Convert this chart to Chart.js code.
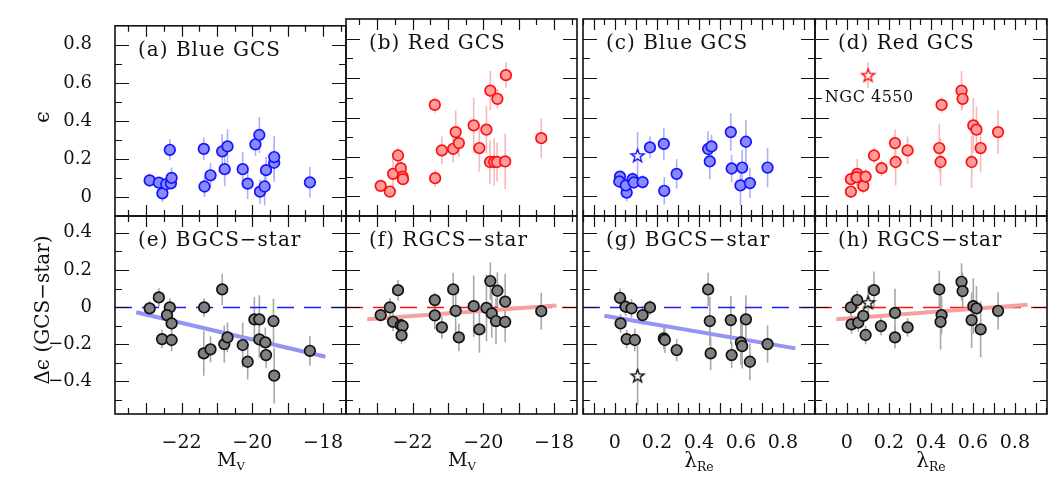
<!DOCTYPE html>
<html><head><meta charset="utf-8">
<script src="https://cdn.jsdelivr.net/npm/chart.js@4.4.1/dist/chart.umd.min.js"></script>
<style>
html,body{margin:0;padding:0;background:#fff;}
#wrap{position:relative;width:1064px;height:481px;overflow:hidden;background:#fff;}
#wrap canvas{position:absolute;left:0;top:0;}
.t{position:absolute;font-family:"DejaVu Serif",serif;color:#111;white-space:nowrap;line-height:1;}
.t sub{font-size:0.62em;vertical-align:-0.35em;}
</style></head><body>
<div id="wrap">
  <div class="t" style="left:42px;top:117px;font-size:21px;transform:translate(-50%,-50%) rotate(-90deg);">ϵ</div>
  <div class="t" style="left:42px;top:310px;font-size:20px;transform:translate(-50%,-50%) rotate(-90deg);">Δϵ (GCS−star)</div>
  <div class="t" style="left:231px;top:461px;font-size:19px;transform:translate(-50%,-50%);">M<sub>V</sub></div>
  <div class="t" style="left:462px;top:461px;font-size:19px;transform:translate(-50%,-50%);">M<sub>V</sub></div>
  <div class="t" style="left:699px;top:462px;font-size:20px;transform:translate(-50%,-50%);">λ<sub>Re</sub></div>
  <div class="t" style="left:931px;top:462px;font-size:20px;transform:translate(-50%,-50%);">λ<sub>Re</sub></div>
</div>
<script>
// ---------------- DATA ----------------
const mvTickLabels   = [-22, -20, -18];
const lamTickLabels  = [0, 0.2, 0.4, 0.6, 0.8];
const epsTickLabels  = [0, 0.2, 0.4, 0.6, 0.8];
const depsTickLabels = [-0.4, -0.2, 0, 0.2, 0.4];

// (a) Blue GCS : M_V vs ellipticity
const aMv  = [-22.90,-22.64,-22.54,-22.43,-22.33,-22.30,-22.28,-21.37,-21.35,-21.18,-20.85,-20.70,-20.78,-20.27,-20.13,-19.91,-19.80,-19.78,-19.65,-19.61,-19.38,-19.38,-18.37];
const aEps = [0.087,0.075,0.019,0.067,0.248,0.072,0.100,0.253,0.055,0.114,0.240,0.266,0.146,0.146,0.070,0.277,0.326,0.028,0.055,0.141,0.180,0.210,0.077];
const aErr = [0.035,0.030,0.045,0.030,0.055,0.030,0.055,0.060,0.055,0.065,0.090,0.090,0.090,0.090,0.080,0.060,0.095,0.065,0.100,0.070,0.100,0.110,0.080];

// (b) Red GCS : M_V vs ellipticity
const bMv  = [-22.90,-22.64,-22.41,-22.55,-22.33,-22.28,-22.27,-21.37,-21.36,-21.17,-20.85,-20.78,-20.69,-20.27,-20.11,-19.91,-19.80,-19.60,-19.81,-19.69,-19.61,-19.38,-19.36,-18.36];
const bEps = [0.053,0.024,0.207,0.114,0.143,0.100,0.087,0.464,0.092,0.233,0.241,0.326,0.270,0.360,0.245,0.338,0.536,0.495,0.174,0.174,0.174,0.177,0.615,0.295];
const bErr = [0.020,0.020,0.040,0.075,0.040,0.040,0.030,0.040,0.045,0.070,0.070,0.110,0.070,0.140,0.120,0.120,0.100,0.050,0.110,0.120,0.100,0.140,0.065,0.100];

// (c) Blue GCS : lambda_Re vs ellipticity
const cLam = [0.024,0.021,0.056,0.052,0.084,0.090,0.132,0.167,0.233,0.235,0.294,0.444,0.460,0.452,0.552,0.556,0.624,0.606,0.598,0.643,0.727];
const cEps = [0.100,0.075,0.019,0.055,0.087,0.070,0.072,0.248,0.266,0.028,0.114,0.240,0.253,0.177,0.326,0.141,0.277,0.146,0.055,0.067,0.146];
const cErr = [0.030,0.030,0.045,0.030,0.035,0.030,0.035,0.055,0.080,0.070,0.075,0.090,0.060,0.090,0.095,0.070,0.110,0.090,0.100,0.075,0.100];
const cStarLam = [0.108], cStarEps = [0.207], cStarErr = [0.120];

// (d) Red GCS : lambda_Re vs ellipticity
const dLam = [0.019,0.019,0.049,0.046,0.078,0.089,0.129,0.165,0.229,0.232,0.289,0.440,0.446,0.451,0.546,0.551,0.602,0.617,0.594,0.637,0.720];
const dEps = [0.024,0.087,0.114,0.097,0.053,0.100,0.207,0.143,0.270,0.174,0.233,0.245,0.174,0.464,0.536,0.495,0.360,0.338,0.174,0.245,0.326];
const dErr = [0.020,0.030,0.075,0.040,0.040,0.040,0.040,0.040,0.070,0.120,0.070,0.120,0.120,0.040,0.100,0.050,0.140,0.120,0.130,0.120,0.110];
const dStarLam = [0.101], dStarEps = [0.615], dStarErr = [0.065];
const dNote = {text: 'NGC 4550', x: -0.105, y: 0.50};

// (e) BGCS-star : M_V vs delta ellipticity
const eMv  = [-22.90,-22.64,-22.33,-22.41,-22.28,-22.55,-22.28,-21.36,-20.85,-21.37,-21.18,-20.79,-20.70,-20.27,-20.13,-19.94,-19.80,-19.80,-19.63,-19.61,-19.40,-19.38,-18.37];
const eDel = [-0.007,0.052,-0.002,-0.043,-0.088,-0.172,-0.177,-0.002,0.095,-0.249,-0.227,-0.199,-0.163,-0.204,-0.294,-0.066,-0.066,-0.174,-0.190,-0.258,-0.075,-0.369,-0.235];
const eErr = [0.040,0.050,0.050,0.060,0.050,0.050,0.060,0.050,0.085,0.120,0.070,0.100,0.080,0.120,0.095,0.120,0.130,0.100,0.080,0.070,0.120,0.150,0.080];
const eFitX = [-23.28,-17.93], eFitY = [-0.028,-0.267];

// (f) RGCS-star : M_V vs delta ellipticity
const fMv  = [-22.90,-22.64,-22.41,-22.55,-22.33,-22.28,-22.31,-21.37,-21.37,-21.17,-20.85,-20.78,-20.69,-20.27,-20.11,-19.91,-19.80,-19.60,-19.76,-19.64,-19.38,-19.38,-18.36];
const fDel = [-0.043,-0.002,0.091,-0.079,-0.097,-0.102,-0.152,0.038,-0.045,-0.109,0.095,-0.020,-0.163,0.005,-0.120,-0.004,0.140,0.088,-0.034,-0.075,0.029,-0.079,-0.022];
const fErr = [0.030,0.050,0.055,0.050,0.050,0.050,0.045,0.040,0.075,0.060,0.090,0.130,0.075,0.165,0.125,0.180,0.100,0.100,0.130,0.125,0.150,0.110,0.100];
const fFitX = [-23.28,-17.93], fFitY = [-0.065,0.009];

// (g) BGCS-star : lambda_Re vs delta ellipticity
const gLam = [0.024,0.051,0.079,0.027,0.056,0.095,0.132,0.167,0.233,0.238,0.294,0.444,0.452,0.456,0.552,0.556,0.624,0.600,0.606,0.643,0.727];
const gDel = [0.050,0.002,-0.007,-0.088,-0.172,-0.177,-0.043,-0.002,-0.168,-0.177,-0.231,0.095,-0.075,-0.249,-0.070,-0.258,-0.066,-0.190,-0.210,-0.294,-0.199];
const gErr = [0.050,0.050,0.050,0.050,0.050,0.060,0.050,0.040,0.060,0.070,0.060,0.090,0.130,0.090,0.130,0.070,0.130,0.120,0.120,0.100,0.100];
const gStarLam = [0.108], gStarDel = [-0.369], gStarErr = [0.160];
const gFitX = [-0.05,0.86], gFitY = [-0.047,-0.222];

// (h) RGCS-star : lambda_Re vs delta ellipticity
const hLam = [0.019,0.022,0.049,0.054,0.078,0.089,0.129,0.162,0.229,0.229,0.289,0.440,0.451,0.446,0.546,0.551,0.602,0.617,0.594,0.637,0.720];
const hDel = [-0.002,-0.093,0.038,-0.084,-0.047,-0.150,0.091,-0.102,-0.031,-0.163,-0.109,0.095,-0.043,-0.079,0.136,0.086,0.005,-0.007,-0.070,-0.120,-0.020];
const hErr = [0.050,0.050,0.050,0.050,0.050,0.050,0.100,0.050,0.130,0.060,0.050,0.100,0.100,0.150,0.100,0.100,0.150,0.120,0.150,0.150,0.100];
const hStarLam = [0.101], hStarDel = [0.025], hStarErr = [0.090];
const hFitX = [-0.05,0.86], hFitY = [-0.065,0.013];

// ---------------- STYLE / LAYOUT ----------------
const FONT = '"DejaVu Serif", serif';
Chart.defaults.font.family = FONT;
Chart.defaults.color = '#111';
const CW = 1064, CH = 481;
const colL = [115, 346, 583, 815], colR = [346, 577, 815, 1047];
const rowT = [19, 216], rowB = [216, 414];
const YAXW = 80, XAXH = 45;

const STY = {
  blue: {fill:'#8a8aff', stroke:'#1414ff', err:'#aeb0f6', fit:'#9494f2', zero:'#1a1aff'},
  red:  {fill:'#ff9c9c', stroke:'#ff1010', err:'#f8b8b8', fit:'#f7a0a0', zero:'#ff1010'},
  gray: {fill:'#808080', stroke:'#111111', err:'#a8a8a8'}
};
const xSpec = {
  mv:  {min:-23.88, max:-17.35, labels:mvTickLabels, major:1, minor:0.5},
  lam: {min:-0.152, max:0.953, labels:lamTickLabels, major:0.1, minor:0.05}
};
const ySpec = {
  eps:  {min:-0.1, max:0.9, labels:epsTickLabels, major:0.2, minor:0.1},
  deps: {min:-0.575, max:0.49, labels:depsTickLabels, major:0.2, minor:0.1}
};

function pts(xs, ys){ return xs.map((v,i)=>({x:v, y:ys[i]})); }
function fmt(v){ return String(Math.round(v*100)/100).replace('-', '\u2212'); }
function makeStar(stroke){
  const c = document.createElement('canvas'); c.width = 17; c.height = 17;
  const g = c.getContext('2d');
  g.beginPath();
  for (let i = 0; i < 10; i++){
    const r = (i % 2) ? 2.8 : 6.8;
    const ang = -Math.PI/2 + i*Math.PI/5;
    const px = 8.5 + r*Math.cos(ang), py = 9 + r*Math.sin(ang);
    if (i) g.lineTo(px, py); else g.moveTo(px, py);
  }
  g.closePath(); g.fillStyle = '#fff'; g.fill();
  g.lineWidth = 1.4; g.strokeStyle = stroke; g.stroke();
  return c;
}

function scatterSet(xs, ys, errs, sty, style){
  return {type:'scatter', data:pts(xs, ys), errs:errs, errColor:sty.err,
    pointStyle: style || 'circle', pointRadius:5.3, pointHoverRadius:5.3,
    backgroundColor:sty.fill, borderColor:sty.stroke, borderWidth:1.7, order:0};
}
function fitSet(xs, ys, color){
  return {type:'line', data:pts(xs, ys), showLine:true, borderColor:color, borderWidth:4,
    pointRadius:0, fill:false, order:1};
}

const panels = [
  {col:0,row:0,x:'mv', y:'eps', label:'(a) Blue GCS', sets:[scatterSet(aMv,aEps,aErr,STY.blue)]},
  {col:1,row:0,x:'mv', y:'eps', label:'(b) Red GCS',  sets:[scatterSet(bMv,bEps,bErr,STY.red)]},
  {col:2,row:0,x:'lam',y:'eps', label:'(c) Blue GCS', sets:[scatterSet(cLam,cEps,cErr,STY.blue), scatterSet(cStarLam,cStarEps,cStarErr,STY.blue,makeStar('#1414ff'))]},
  {col:3,row:0,x:'lam',y:'eps', label:'(d) Red GCS',  note:dNote, sets:[scatterSet(dLam,dEps,dErr,STY.red), scatterSet(dStarLam,dStarEps,dStarErr,STY.red,makeStar('#ff1010'))]},
  {col:0,row:1,x:'mv', y:'deps', label:'(e) BGCS\u2212star', zero:STY.blue.zero, sets:[fitSet(eFitX,eFitY,STY.blue.fit), scatterSet(eMv,eDel,eErr,STY.gray)]},
  {col:1,row:1,x:'mv', y:'deps', label:'(f) RGCS\u2212star', zero:STY.red.zero,  sets:[fitSet(fFitX,fFitY,STY.red.fit), scatterSet(fMv,fDel,fErr,STY.gray)]},
  {col:2,row:1,x:'lam',y:'deps', label:'(g) BGCS\u2212star', zero:STY.blue.zero, sets:[fitSet(gFitX,gFitY,STY.blue.fit), scatterSet(gLam,gDel,gErr,STY.gray), scatterSet(gStarLam,gStarDel,gStarErr,STY.gray,makeStar('#111'))]},
  {col:3,row:1,x:'lam',y:'deps', label:'(h) RGCS\u2212star', zero:STY.red.zero,  sets:[fitSet(hFitX,hFitY,STY.red.fit), scatterSet(hLam,hDel,hErr,STY.gray), scatterSet(hStarLam,hStarDel,hStarErr,STY.gray,makeStar('#111'))]}
];

// ---------------- PLUGINS ----------------
const underPlugin = {
  id:'under',
  beforeDatasetsDraw(chart){
    const {ctx, chartArea:a, scales:{y}} = chart;
    const o = chart.options.plugins.under || {};
    ctx.save();
    ctx.beginPath(); ctx.rect(a.left, a.top, a.width, a.height); ctx.clip();
    chart.data.datasets.forEach((ds, i) => {
      if (!ds.errs) return;
      const meta = chart.getDatasetMeta(i);
      ctx.strokeStyle = ds.errColor; ctx.lineWidth = 1.6;
      meta.data.forEach((p, j) => {
        const v = ds.data[j].y, e = ds.errs[j];
        ctx.beginPath();
        ctx.moveTo(p.x, y.getPixelForValue(v - e));
        ctx.lineTo(p.x, y.getPixelForValue(v + e));
        ctx.stroke();
      });
    });
    if (o.zero){
      const py = Math.round(y.getPixelForValue(0)) + 0.5;
      ctx.strokeStyle = o.zero; ctx.lineWidth = 1.5; ctx.setLineDash([17, 10]);
      ctx.beginPath(); ctx.moveTo(a.left, py); ctx.lineTo(a.right, py); ctx.stroke();
    }
    ctx.restore();
  }
};

function tickVals(min, max, step){
  const out = [];
  for (let k = Math.ceil(min/step - 1e-6); k*step <= max + 1e-9; k++){
    const v = k*step;
    if (v > min + 1e-6 && v < max - 1e-6) out.push(v);
  }
  return out;
}
const isMul = (v, s) => Math.abs(v/s - Math.round(v/s)) < 1e-6;

const framePlugin = {
  id:'frame',
  afterDraw(chart){
    const {ctx, chartArea:a, scales:{x, y}} = chart;
    const o = chart.options.plugins.frame;
    ctx.save();
    ctx.strokeStyle = '#111'; ctx.lineWidth = 1.2;
    tickVals(x.min, x.max, o.xs.minor).forEach(v => {
      const len = isMul(v, o.xs.major) ? 11 : 6;
      const px = Math.round(x.getPixelForValue(v)) + 0.5;
      ctx.beginPath();
      ctx.moveTo(px, a.top); ctx.lineTo(px, a.top + len);
      ctx.moveTo(px, a.bottom); ctx.lineTo(px, a.bottom - len);
      ctx.stroke();
    });
    tickVals(y.min, y.max, o.ys.minor).forEach(v => {
      const len = isMul(v, o.ys.major) ? 14 : 7;
      const py = Math.round(y.getPixelForValue(v)) + 0.5;
      ctx.beginPath();
      ctx.moveTo(a.left, py); ctx.lineTo(a.left + len, py);
      ctx.moveTo(a.right, py); ctx.lineTo(a.right - len, py);
      ctx.stroke();
    });
    ctx.lineWidth = 1.6;
    ctx.strokeRect(a.left, a.top, a.right - a.left, a.bottom - a.top);
    // panel label
    ctx.fillStyle = '#111';
    ctx.font = '20px ' + FONT;
    if ('letterSpacing' in ctx) ctx.letterSpacing = '1px';
    ctx.textBaseline = 'middle'; ctx.textAlign = 'left';
    ctx.fillText(o.label, a.left + 23, a.top + 25);
    if (o.note){
      ctx.font = '16px ' + FONT;
      if ('letterSpacing' in ctx) ctx.letterSpacing = '0.5px';
      ctx.fillText(o.note.text, x.getPixelForValue(o.note.x), y.getPixelForValue(o.note.y));
    }
    ctx.restore();
  }
};

// ---------------- BUILD ----------------
const wrap = document.getElementById('wrap');
panels.forEach(p => {
  const cv = document.createElement('canvas');
  cv.width = CW; cv.height = CH;
  cv.style.width = CW + 'px'; cv.style.height = CH + 'px';
  wrap.insertBefore(cv, wrap.firstChild);
  const xs = xSpec[p.x], ys = ySpec[p.y];
  const yw = p.col === 0 ? YAXW : 0;
  const xh = p.row === 1 ? XAXH : 0;
  new Chart(cv, {
    type:'scatter',
    data:{datasets:p.sets},
    options:{
      responsive:false, animation:false, devicePixelRatio:1,
      layout:{padding:{left:colL[p.col] - yw, right:CW - colR[p.col], top:rowT[p.row], bottom:CH - rowB[p.row] - xh}},
      plugins:{legend:{display:false}, tooltip:{enabled:false},
        under:{zero:p.zero},
        frame:{xs:xs, ys:ys, label:p.label, note:p.note}},
      scales:{
        x:{type:'linear', min:xs.min, max:xs.max,
          grid:{display:false}, border:{display:false},
          afterFit:s => { s.height = xh; },
          afterBuildTicks:s => { s.ticks = xs.labels.map(v => ({value:v})); },
          ticks:{display:p.row === 1, autoSkip:false, maxRotation:0, minRotation:0, padding:10,
            font:{size:19, family:FONT}, color:'#111', callback:v => fmt(v)}},
        y:{type:'linear', min:ys.min, max:ys.max,
          grid:{display:false}, border:{display:false},
          afterFit:s => { s.width = yw; },
          afterBuildTicks:s => { s.ticks = ys.labels.map(v => ({value:v})); },
          ticks:{display:p.col === 0, autoSkip:false, padding:15,
            font:{size:18, family:FONT}, color:'#111', callback:v => fmt(v)}}
      }
    },
    plugins:[underPlugin, framePlugin]
  });
});
</script>
</body></html>
